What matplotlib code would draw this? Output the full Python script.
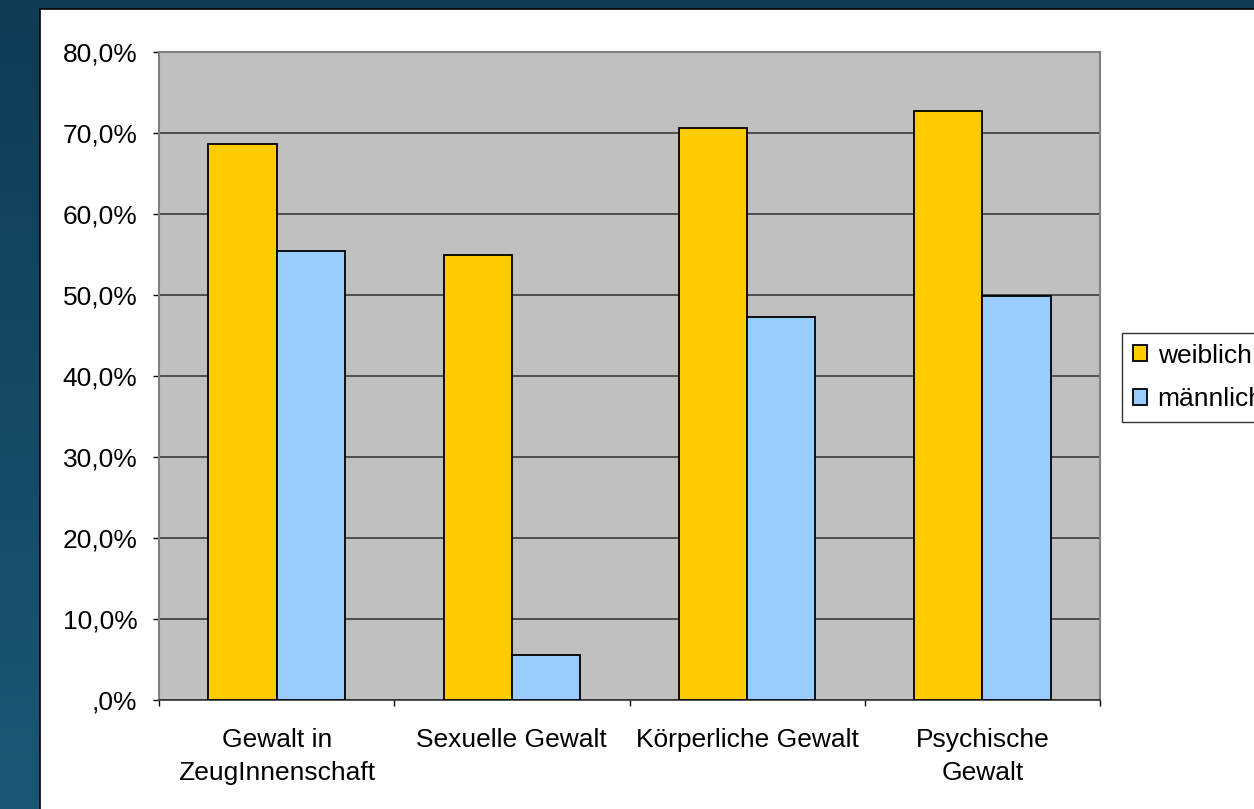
import numpy as np
import matplotlib
matplotlib.use("Agg")
import matplotlib.pyplot as plt
from matplotlib.patches import Rectangle

plt.rcParams['font.family'] = ['Liberation Sans', 'DejaVu Sans']

# data
categories = ['Gewalt in\nZeugInnenschaft', 'Sexuelle Gewalt', 'Körperliche Gewalt', 'Psychische\nGewalt']
weiblich = [68.6, 54.9, 70.6, 72.7]
maennlich = [55.4, 5.6, 47.3, 49.9]
yticks = [0, 10, 20, 30, 40, 50, 60, 70, 80]
ytick_labels = [',0%', '10,0%', '20,0%', '30,0%', '40,0%', '50,0%', '60,0%', '70,0%', '80,0%']

W, H = 1254, 809
fig = plt.figure(figsize=(W / 100, H / 100), dpi=100)

# dark blue slide background with gradient
bg = fig.add_axes([0, 0, 1, 1])
grad = np.linspace(0, 1, 256).reshape(-1, 1)
cmap = matplotlib.colors.LinearSegmentedColormap.from_list('bg', ['#0f3b53', '#1b5775'])
bg.imshow(grad, aspect='auto', cmap=cmap, extent=[0, 1, 0, 1], origin='upper')
bg.set_axis_off()

# white slide area
fig.patches.append(Rectangle((40 / W, -0.01), 1.0, 1 - 9 / H + 0.01, transform=fig.transFigure,
                             facecolor='white', edgecolor='black', linewidth=1.2, zorder=1))

ax = fig.add_axes([159 / W, 1 - 700 / H, (1100 - 159) / W, (700 - 52) / H])
ax.set_zorder(2)
ax.set_facecolor('#c0c0c0')

x = np.arange(len(categories))
bw = 0.29
ax.bar(x - bw / 2, weiblich, bw, color='#ffcc00', edgecolor='black', linewidth=1.3, label='weiblich', zorder=3)
ax.bar(x + bw / 2, maennlich, bw, color='#99ccff', edgecolor='black', linewidth=1.3, label='männlich', zorder=3)

ax.set_xlim(-0.5, 3.5)
ax.set_ylim(0, 80)
ax.set_yticks(yticks)
ax.set_yticklabels(ytick_labels, fontsize=19)
ax.yaxis.grid(True, color='#2e2e2e', linewidth=1.1)
ax.set_axisbelow(True)

ax.set_xticks(x)
ax.set_xticklabels(categories, fontsize=19, linespacing=1.5)
ax.set_xticks([-0.5, 0.5, 1.5, 2.5, 3.5], minor=True)
ax.tick_params(axis='x', which='major', length=0, pad=20)
ax.tick_params(axis='x', which='minor', length=4.5, width=1, color='black')
ax.tick_params(axis='y', length=4.5, width=1, pad=11)

for s in ['top', 'right', 'left']:
    ax.spines[s].set_color('#808080')
    ax.spines[s].set_linewidth(1.5)
ax.spines['bottom'].set_color('#333333')
ax.spines['bottom'].set_linewidth(1.2)

leg = fig.legend(loc='upper left', bbox_to_anchor=(1122 / W, 1 - 333 / H), fontsize=19,
                 frameon=True, fancybox=False, handlelength=0.55, handleheight=0.55,
                 handletextpad=0.4, borderpad=0.4, labelspacing=0.75, borderaxespad=0)
leg.get_frame().set_edgecolor('black')
leg.get_frame().set_linewidth(1)

fig.savefig('out.png', dpi=100)
